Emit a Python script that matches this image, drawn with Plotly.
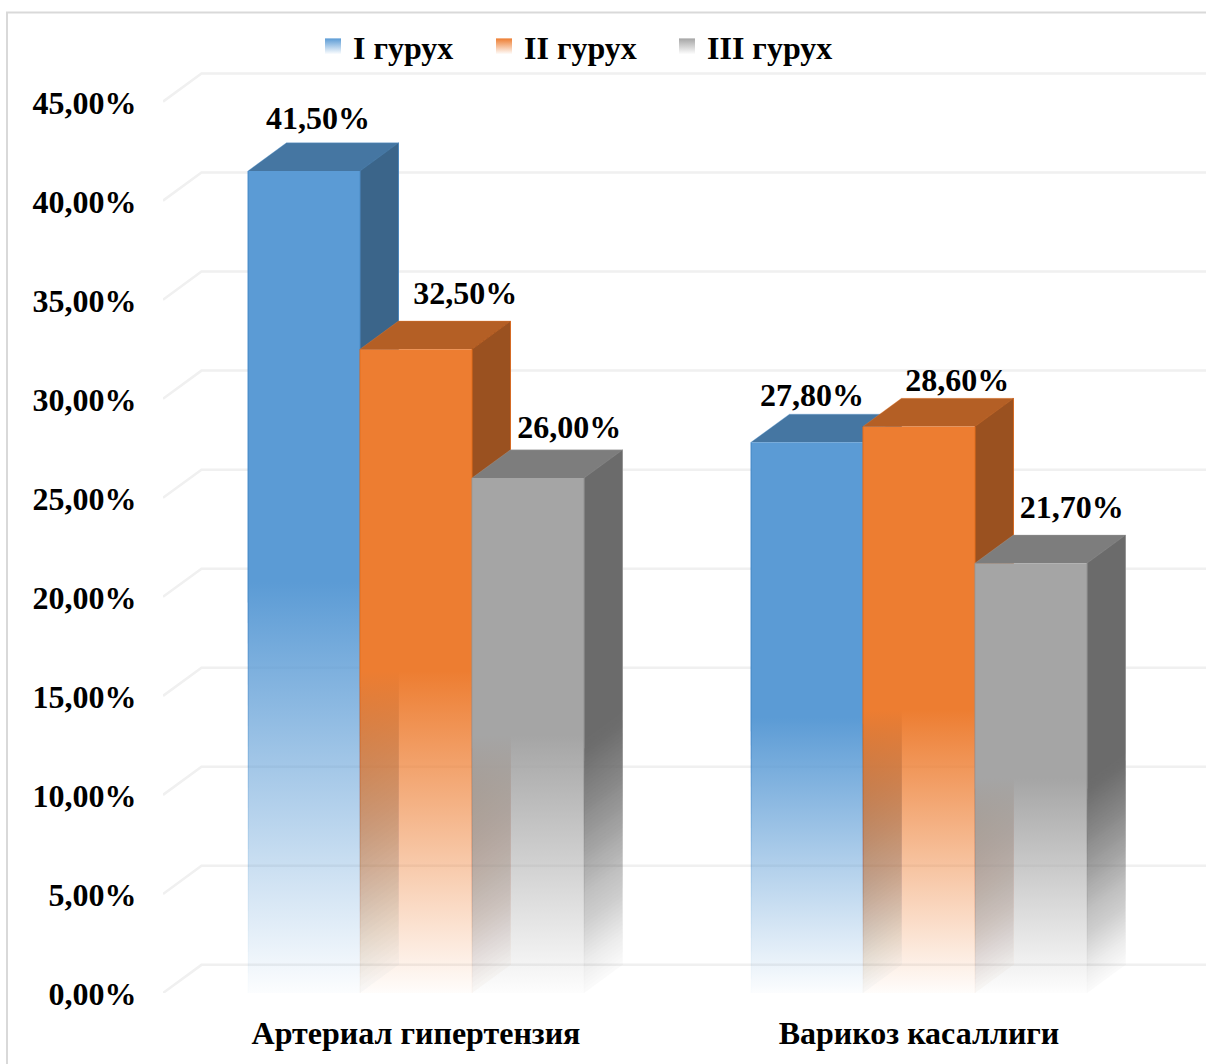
import plotly.graph_objects as go

# Chart content
categories = ["Артериал гипертензия", "Варикоз касаллиги"]
series_names = ["I гурух", "II гурух", "III гурух"]
group_1 = [41.5, 27.8]
group_2 = [32.5, 28.6]
group_3 = [26.0, 21.7]
value_labels = [["41,50%", "27,80%"], ["32,50%", "28,60%"], ["26,00%", "21,70%"]]
tick_values = [0, 5, 10, 15, 20, 25, 30, 35, 40, 45]
tick_labels = ["0,00%", "5,00%", "10,00%", "15,00%", "20,00%",
               "25,00%", "30,00%", "35,00%", "40,00%", "45,00%"]

# Geometry of the pseudo-3D columns, in axis units
BAR_W = 0.2227
DEPTH_X = 0.0765
DEPTH_Y = 1.42
X_MIN, X_MAX = -0.503, 1.5706
Y_MAX = 47

# Hand placement of the value labels relative to each column's rear top edge
label_dx = [[0.028, 0.010], [0.098, 0.076], [0.082, 0.081]]
label_dy = [[1.12, 0.82], [1.27, 0.77], [1.02, 1.27]]

FRONT = [(91, 155, 213), (237, 125, 49), (165, 165, 165)]
TOP_SHADE = 0.76
SIDE_SHADE = 0.65
FADE_STEPS = 64
EDGE_STEPS = 20
FONT = dict(family="Liberation Serif", size=32, color="#000000", weight="bold")


def rgba(rgb, alpha=1.0, shade=1.0):
    r, g, b = [round(c * shade) for c in rgb]
    return f"rgba({r},{g},{b},{alpha:.4f})"


def polygon(xs, ys, color, **kw):
    return go.Scatter(x=xs, y=ys, mode="lines", fill="toself", fillcolor=color,
                      line=dict(width=0), hoverinfo="skip", showlegend=False, **kw)


def fade_layers(steps):
    """Per-layer opacity so that nested layers add up to a linear fade."""
    kept = 1.0
    layers = []
    for k in range(steps):
        target = 0.02 + 0.98 * (k + 1) / steps
        alpha = 1.0 if k == steps - 1 else 1 - (1 - target) / kept
        kept = 1 - target if k < steps - 1 else 1.0
        layers.append((k / steps, alpha))
    return layers


fig = go.Figure()

# Rear-wall gridlines with their slanted floor returns
for t in tick_values:
    fig.add_trace(go.Scatter(
        x=[X_MIN, X_MIN + DEPTH_X, X_MAX], y=[t, t + DEPTH_Y, t + DEPTH_Y],
        mode="lines", line=dict(color="#F0F0F0", width=2.5),
        hoverinfo="skip", showlegend=False))

series_values = [group_1, group_2, group_3]
for g, _ in enumerate(categories):
    for s, values in enumerate(series_values):
        v = values[g]
        rgb = FRONT[s]
        left = g + (s - 1.5) * BAR_W
        right = left + BAR_W
        back = right + DEPTH_X

        # top face
        fig.add_trace(polygon(
            [left, right, back, left + DEPTH_X, left],
            [v, v, v + DEPTH_Y, v + DEPTH_Y, v],
            rgba(rgb, 1, TOP_SHADE)))

        # side face: nested layers build up the fade along the slanted floor edge
        for frac, alpha in fade_layers(FADE_STEPS):
            base = v * 0.5 * frac
            fig.add_trace(polygon(
                [right, back, back, right, right],
                [base, base + DEPTH_Y, v + DEPTH_Y, v, base],
                rgba(rgb, alpha, SIDE_SHADE)))

        # front face: solid down to half height, then fading to the floor
        fig.add_trace(go.Scatter(
            x=[left, right, right, left, left], y=[0, 0, v, v, 0],
            mode="lines", fill="toself", line=dict(width=0),
            fillgradient=dict(type="vertical", colorscale=[
                [0.0, rgba(rgb, 0.02)], [0.5, rgba(rgb, 1)], [1.0, rgba(rgb, 1)]]),
            hoverinfo="skip", showlegend=False))

        # thin outline in the series colour, fading with the faces
        for frac, alpha in fade_layers(EDGE_STEPS):
            base = v * 0.5 * frac
            fig.add_trace(go.Scatter(
                x=[left, left, None, right, right, None, back, back],
                y=[base, v, None, base, v, None, base + DEPTH_Y, v + DEPTH_Y],
                mode="lines", line=dict(color=rgba(rgb, alpha * 0.35), width=1),
                hoverinfo="skip", showlegend=False))
        fig.add_trace(go.Scatter(
            x=[left, left + DEPTH_X, back, right],
            y=[v, v + DEPTH_Y, v + DEPTH_Y, v],
            mode="lines", line=dict(color=rgba(rgb, 0.35), width=1),
            hoverinfo="skip", showlegend=False))

# Value labels
for s, values in enumerate(series_values):
    xs = [g + (s - 1) * BAR_W + label_dx[s][g] for g in range(len(categories))]
    ys = [values[g] + DEPTH_Y + label_dy[s][g] for g in range(len(categories))]
    fig.add_trace(go.Scatter(
        x=xs, y=ys, mode="text", text=value_labels[s], textposition="middle center",
        textfont=FONT, hoverinfo="skip", showlegend=False))

# Legend entries
legend_widths = [126, 138, 149]
for s, name in enumerate(series_names):
    fig.add_trace(go.Scatter(
        x=[None], y=[None], mode="markers", name=name, legendwidth=legend_widths[s],
        marker=dict(symbol="square", size=17, color=rgba(FRONT[s]),
                    gradient=dict(type="vertical", color="#FFFFFF"))))

W, H = 1206, 1064
M_LEFT, M_BOTTOM = 163, 71
plot_w = W - M_LEFT
plot_h = Y_MAX * 19.8
M_TOP = H - M_BOTTOM - plot_h

fig.update_layout(
    width=W, height=H,
    margin=dict(l=M_LEFT, r=0, t=M_TOP, b=M_BOTTOM, autoexpand=False),
    paper_bgcolor="#FFFFFF", plot_bgcolor="#FFFFFF",
    font=FONT,
    showlegend=True,
    legend=dict(orientation="h", x=(313 - M_LEFT) / plot_w, xanchor="left",
                y=(H - M_BOTTOM - 47) / plot_h, yanchor="middle",
                bgcolor="rgba(0,0,0,0)", font=FONT, traceorder="normal"),
    xaxis=dict(range=[X_MIN, X_MAX], tickmode="array",
               tickvals=list(range(len(categories))), ticktext=categories,
               showgrid=False, zeroline=False, showline=False,
               ticks="outside", ticklen=12, tickcolor="rgba(0,0,0,0)", tickfont=FONT),
    yaxis=dict(range=[0, Y_MAX], tickmode="array", tickvals=tick_values,
               ticktext=tick_labels, showgrid=False, zeroline=False, showline=False,
               ticks="outside", ticklen=19, tickcolor="rgba(0,0,0,0)", tickfont=FONT,
               ticklabelshift=1),
    shapes=[dict(type="rect", xref="paper", yref="paper",
                 x0=(7 - M_LEFT) / plot_w, x1=(W + 20 - M_LEFT) / plot_w,
                 y0=-(M_BOTTOM + 20) / plot_h, y1=(H - M_BOTTOM - 13) / plot_h,
                 line=dict(color="#D9D9D9", width=2), layer="below")],
)

fig.write_html("out.html")
